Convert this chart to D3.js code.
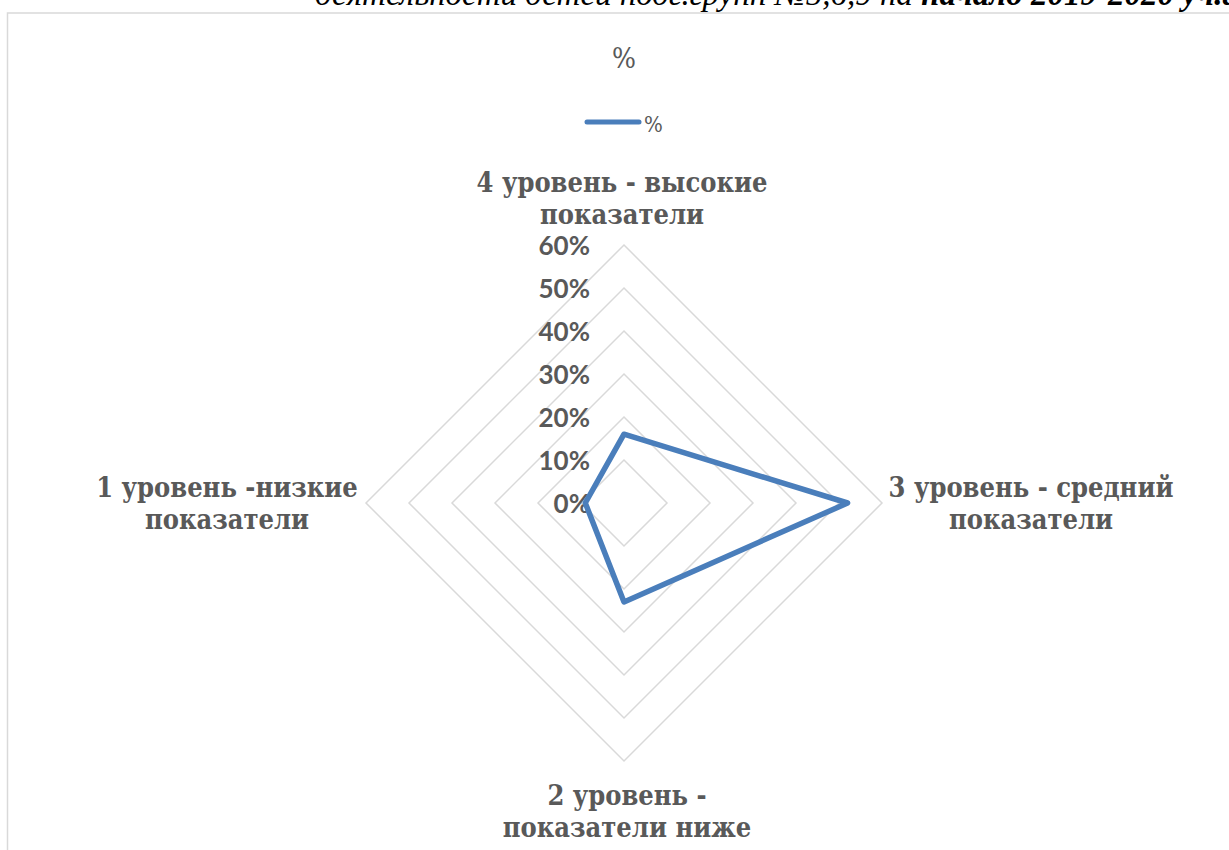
<!DOCTYPE html>
<html>
<head>
<meta charset="utf-8">
<script src="https://cdnjs.cloudflare.com/ajax/libs/d3/7.8.5/d3.min.js"></script>
<style>
  body { margin: 0; background: #fff; overflow: hidden; }
  svg { display: block; }
</style>
</head>
<body>
<div id="chart"></div>
<script>
// Categories, clockwise from the top
var categories = [
  ['4 уровень - высокие', 'показатели'],
  ['3 уровень - средний', 'показатели'],
  ['2 уровень -', 'показатели ниже'],
  ['1 уровень -низкие', 'показатели']
];
var values = [0.16, 0.52, 0.23, 0.09];
var ticks = [0, 0.1, 0.2, 0.3, 0.4, 0.5, 0.6];
var seriesName = '%';
var chartTitle = '%';

(function () {
  'use strict';
  var width = 1229, height = 850,
      cx = 624, cy = 503,
      radius = 258,
      gray = '#595959',
      lineColor = '#4a7ebb',
      serif = '"Liberation Serif", "Times New Roman", serif',
      labelFont = '"DejaVu Serif Condensed", "DejaVu Serif", serif';

  var svg = d3.select('#chart').append('svg')
    .attr('width', width)
    .attr('height', height);

  // Document text above the chart, cut by the page edge as in the source
  var doc = svg.append('text')
    .attr('x', 315)
    .attr('y', 5)
    .style('font-family', serif)
    .style('font-style', 'italic')
    .style('font-size', '33px')
    .style('fill', '#000');
  doc.append('tspan').text('деятельности детей подг.групп №5,6,9 на ');
  doc.append('tspan').style('font-weight', 'bold').text('начало 2019-2020 уч.года');

  // Chart area border
  svg.append('rect')
    .attr('x', 7.5)
    .attr('y', 13)
    .attr('width', 1300)
    .attr('height', 900)
    .style('fill', '#fff')
    .style('stroke', '#d9d9d9')
    .style('stroke-width', 1.5);

  // Title
  svg.append('text')
    .attr('x', cx)
    .attr('y', 68)
    .attr('text-anchor', 'middle')
    .style('font-family', labelFont)
    .style('font-size', '28px')
    .style('fill', gray)
    .text(chartTitle);

  // Legend
  var legend = svg.append('g');
  legend.append('line')
    .attr('x1', 587).attr('x2', 639)
    .attr('y1', 122).attr('y2', 122)
    .style('stroke', lineColor)
    .style('stroke-width', 5)
    .style('stroke-linecap', 'round');
  legend.append('text')
    .attr('x', 644)
    .attr('y', 132)
    .style('font-family', labelFont)
    .style('font-size', '22px')
    .style('fill', gray)
    .text(seriesName);

  var r = d3.scaleLinear().domain([0, 0.6]).range([0, radius]);
  var n = categories.length;
  function angle(i) { return -Math.PI / 2 + i * 2 * Math.PI / n; }
  function pt(i, v) {
    return [cx + r(v) * Math.cos(angle(i)), cy + r(v) * Math.sin(angle(i))];
  }

  var g = svg.append('g');

  // Grid rings
  g.selectAll('.ring')
    .data(ticks.filter(function (t) { return t > 0; }))
    .enter().append('polygon')
      .attr('class', 'ring')
      .attr('points', function (t) {
        return d3.range(n).map(function (i) { return pt(i, t).join(','); }).join(' ');
      })
      .style('fill', 'none')
      .style('stroke', '#d9d9d9')
      .style('stroke-width', 1.5);

  // Tick labels
  g.selectAll('.tick')
    .data(ticks)
    .enter().append('text')
      .attr('class', 'tick')
      .attr('x', cx - 34)
      .attr('y', function (t) { return cy - r(t) + 10; })
      .attr('text-anchor', 'end')
      .style('font-family', 'Lato, "Open Sans", sans-serif')
      .style('font-weight', 'bold')
      .style('font-size', '26px')
      .style('fill', gray)
      .text(d3.format('.0%'));

  // Data line
  var line = d3.line().curve(d3.curveLinearClosed);
  g.append('path')
    .datum(values.map(function (v, i) { return pt(i, v); }))
    .attr('d', line)
    .style('fill', 'none')
    .style('stroke', lineColor)
    .style('stroke-width', 5.5)
    .style('stroke-linejoin', 'round');

  // Category labels
  var labelPos = [[622, 192], [1031, 497], [627, 805], [227, 497]];
  categories.forEach(function (lines, i) {
    var t = svg.append('text')
      .attr('text-anchor', 'middle')
      .style('font-family', labelFont)
      .style('font-weight', 'bold')
      .style('font-size', '27px')
      .style('fill', gray);
    lines.forEach(function (s, j) {
      t.append('tspan')
        .attr('x', labelPos[i][0])
        .attr('y', labelPos[i][1] + j * 32)
        .text(s);
    });
  });
}());
</script>
</body>
</html>
